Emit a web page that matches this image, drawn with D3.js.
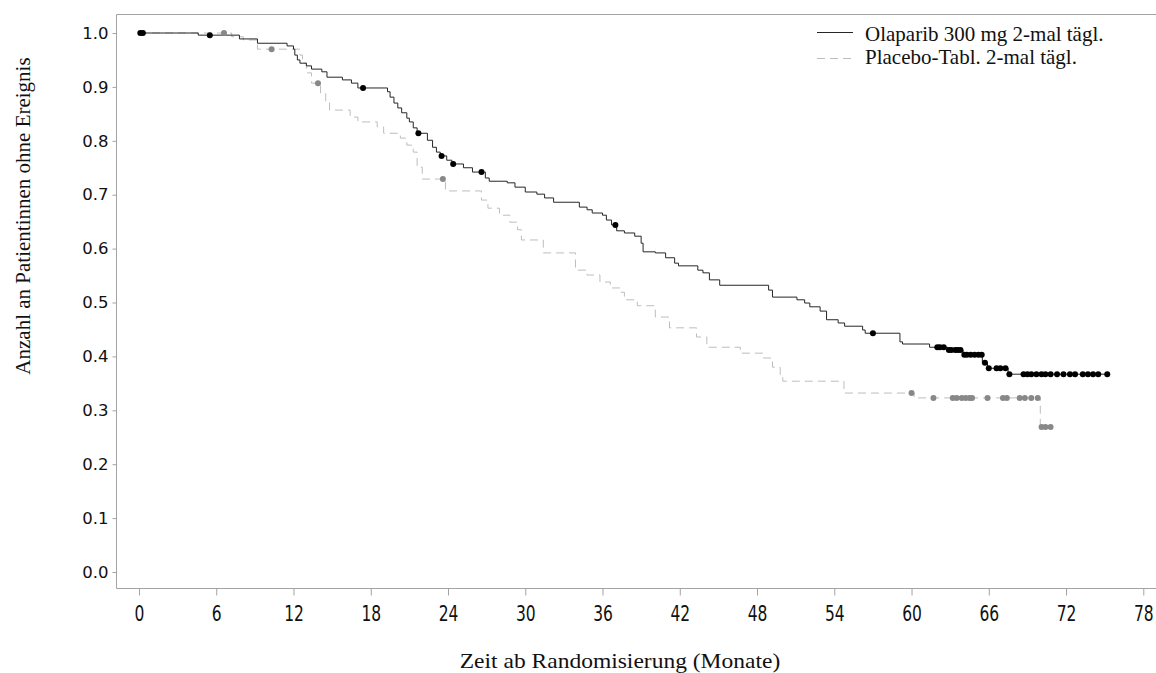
<!DOCTYPE html>
<html>
<head>
<meta charset="utf-8">
<script src="https://cdn.jsdelivr.net/npm/d3@7"></script>
<style>
    body { margin: 0; background: #fff; }
    svg { display: block; }
</style>
</head>
<body>
<svg id="kmSVG" width="1156" height="673"></svg>
<script>

// step events: [months, survival after the drop]
var olaparibSteps = [
    [4.6, 0.996], [7.8, 0.989], [9.2, 0.981], [11.5, 0.976], [12.0, 0.970],
    [12.1, 0.959], [12.3, 0.950], [12.5, 0.944], [13.0, 0.939], [13.4, 0.933],
    [14.2, 0.928], [14.6, 0.918], [15.8, 0.913], [16.5, 0.907], [17.0, 0.898],
    [19.3, 0.891], [19.5, 0.881], [19.8, 0.870], [20.1, 0.861], [20.4, 0.852],
    [20.8, 0.842], [21.0, 0.835], [21.3, 0.824], [21.6, 0.814], [22.4, 0.801],
    [22.8, 0.788], [23.1, 0.779], [23.4, 0.772], [23.9, 0.764], [24.3, 0.757],
    [25.2, 0.750], [25.9, 0.742], [26.9, 0.731], [27.2, 0.725], [28.6, 0.722],
    [29.2, 0.714], [30.0, 0.705], [30.9, 0.701], [31.5, 0.694], [32.2, 0.686],
    [34.2, 0.677], [34.8, 0.672], [35.2, 0.666], [36.0, 0.662], [36.3, 0.653],
    [36.7, 0.644], [37.1, 0.633], [37.7, 0.629], [38.5, 0.623], [39.0, 0.610],
    [39.15, 0.594], [40.1, 0.592], [40.9, 0.583], [41.6, 0.573], [41.9, 0.568],
    [43.4, 0.560], [43.8, 0.555], [44.3, 0.542], [45.1, 0.532], [48.9, 0.523],
    [49.2, 0.510], [51.1, 0.505], [51.7, 0.499], [52.1, 0.492], [52.9, 0.484],
    [53.4, 0.468], [54.3, 0.462], [54.8, 0.456], [56.2, 0.449], [56.4, 0.443],
    [59.1, 0.427], [59.3, 0.423], [61.4, 0.417], [62.8, 0.412], [64.0, 0.403],
    [65.5, 0.388], [65.9, 0.378], [67.5, 0.367]
];
var olaparibEnd = 75.2;
var olaparibCensored = [
    0.1, 0.3, 5.5, 17.4, 21.7, 23.5, 24.4, 26.6, 37.0, 57.0,
    62.0, 62.2, 62.5, 62.9, 63.1, 63.4, 63.6, 63.8,
    64.1, 64.3, 64.6, 64.9, 65.2, 65.45, 65.7,
    66.0, 66.6, 66.9, 67.3,
    67.6, 68.7, 69.0, 69.3, 69.7, 70.1, 70.4, 70.8, 71.3, 71.8,
    72.3, 72.7, 73.3, 73.7, 74.1, 74.5, 75.2
];

var placeboSteps = [
    [7.2, 0.993], [8.1, 0.987], [9.2, 0.970], [12.5, 0.959], [12.7, 0.944],
    [13.0, 0.926], [13.4, 0.907], [14.1, 0.889], [14.5, 0.872], [14.8, 0.857],
    [16.4, 0.844], [17.0, 0.835], [18.5, 0.826], [19.0, 0.814], [20.3, 0.805],
    [20.8, 0.792], [21.3, 0.779], [21.6, 0.751], [22.0, 0.729], [23.8, 0.707],
    [26.6, 0.690], [27.1, 0.675], [28.0, 0.662], [28.8, 0.649], [29.4, 0.635],
    [29.7, 0.616], [31.4, 0.592], [33.9, 0.560], [34.8, 0.551], [35.8, 0.538],
    [36.6, 0.527], [37.4, 0.519], [37.7, 0.505], [38.7, 0.494], [40.1, 0.473],
    [41.2, 0.453], [43.3, 0.436], [44.1, 0.417], [46.7, 0.406], [48.5, 0.397],
    [49.2, 0.380], [49.8, 0.365], [50.0, 0.354], [54.75, 0.332], [60.2, 0.323],
    [70.0, 0.269]
];
var placeboEnd = 70.8;
var placeboCensored = [
    6.6, 10.3, 13.9, 23.6, 60.0, 61.7, 63.2, 63.5, 63.9, 64.2, 64.5, 64.7,
    65.9, 67.1, 67.4, 68.4, 68.8, 69.3, 69.8, 70.1, 70.4, 70.8
];

var xTicks = [0, 6, 12, 18, 24, 30, 36, 42, 48, 54, 60, 66, 72, 78];
var yTicks = [0, 0.1, 0.2, 0.3, 0.4, 0.5, 0.6, 0.7, 0.8, 0.9, 1.0];
var legendLabels = ['Olaparib 300 mg 2-mal tägl.', 'Placebo-Tabl. 2-mal tägl.'];

var properties = {
    width: 1156,
    height: 673,
    frameLeft: 116,
    frameTop: 14,
    frameBottom: 588
};

function survivalAt(steps, t) {
    var s = 1;
    for (var i = 0; i < steps.length; i++) {
        if (steps[i][0] <= t) {
            s = steps[i][1];
        }
    }
    return s;
}

function buildKaplanMeier(properties) {

    var svg = d3.select('#kmSVG');

    var x = d3.scaleLinear()
        .domain([0, 78])
        .range([139, 1143.3]);

    var y = d3.scaleLinear()
        .domain([0, 1])
        .range([572, 33]);

    // frame (open on the right, runs off the picture)
    svg.append('path')
        .attr('d', 'M' + (properties.width + 2) + ',' + (properties.frameTop + 0.5) +
            'H' + (properties.frameLeft + 0.5) +
            'V' + (properties.frameBottom + 0.5) +
            'H' + (properties.width + 2))
        .attr('fill', 'none')
        .attr('stroke', '#a3a3a3')
        .attr('stroke-width', 1);

    var xAxis = svg.append('g')
        .attr('transform', 'translate(0,' + (properties.frameBottom + 0.5) + ')')
        .call(d3.axisBottom(x).tickValues(xTicks).tickSize(7).tickPadding(0));

    xAxis.select('.domain').remove();
    xAxis.selectAll('line').attr('stroke', '#a3a3a3');
    xAxis.selectAll('text')
        .attr('y', 0)
        .attr('dy', 0)
        .attr('fill', '#111')
        .attr('font-family', 'DejaVu Sans')
        .attr('font-size', 15.5)
        .attr('transform', 'translate(0,32) scale(1,1.35)');

    var yAxis = svg.append('g')
        .attr('transform', 'translate(' + (properties.frameLeft + 0.5) + ',0)')
        .call(d3.axisLeft(y).tickValues(yTicks).tickSize(4).tickPadding(4).tickFormat(d3.format('.1f')));

    yAxis.select('.domain').remove();
    yAxis.selectAll('line').attr('stroke', '#a3a3a3');
    yAxis.selectAll('text')
        .attr('fill', '#111')
        .attr('font-family', 'DejaVu Sans')
        .attr('font-size', 16.5);

    // axis titles
    svg.append('text')
        .attr('transform', 'translate(620,668) scale(1.12,1)')
        .attr('text-anchor', 'middle')
        .attr('font-family', 'Liberation Serif')
        .attr('font-size', 21)
        .attr('fill', '#111')
        .text('Zeit ab Randomisierung (Monate)');

    svg.append('text')
        .attr('transform', 'translate(30,216) rotate(-90)')
        .attr('text-anchor', 'middle')
        .attr('font-family', 'Liberation Serif')
        .attr('font-size', 21)
        .attr('fill', '#111')
        .text('Anzahl an Patientinnen ohne Ereignis');

    var line = d3.line()
        .x(function(d) { return x(d[0]); })
        .y(function(d) { return y(d[1]); })
        .curve(d3.curveStepAfter);

    var placeboPoints = [[0, 1]].concat(placeboSteps, [[placeboEnd, survivalAt(placeboSteps, placeboEnd)]]);
    var olaparibPoints = [[0, 1]].concat(olaparibSteps, [[olaparibEnd, survivalAt(olaparibSteps, olaparibEnd)]]);

    svg.append('path')
        .datum(placeboPoints)
        .attr('d', line)
        .attr('fill', 'none')
        .attr('stroke', '#bdbdbd')
        .attr('stroke-width', 1)
        .attr('stroke-dasharray', '8,5');

    svg.append('path')
        .datum(olaparibPoints)
        .attr('d', line)
        .attr('fill', 'none')
        .attr('stroke', '#262626')
        .attr('stroke-width', 1);

    svg.selectAll('.placeboCensor')
        .data(placeboCensored)
        .enter()
        .append('circle')
            .attr('class', 'placeboCensor')
            .attr('r', 3)
            .attr('fill', '#888')
            .attr('cx', function(d) { return x(d); })
            .attr('cy', function(d) { return y(survivalAt(placeboSteps, d)); });

    svg.selectAll('.olaparibCensor')
        .data(olaparibCensored)
        .enter()
        .append('circle')
            .attr('class', 'olaparibCensor')
            .attr('r', 3)
            .attr('fill', '#000')
            .attr('cx', function(d) { return x(d); })
            .attr('cy', function(d) { return y(survivalAt(olaparibSteps, d)); });

    // legend
    var legend = svg.append('g')
        .attr('transform', 'translate(817,0)');

    legend.append('line')
        .attr('x1', 0).attr('x2', 36)
        .attr('y1', 32.5).attr('y2', 32.5)
        .attr('stroke', '#262626')
        .attr('stroke-width', 1);

    legend.append('line')
        .attr('x1', 0).attr('x2', 36)
        .attr('y1', 58.5).attr('y2', 58.5)
        .attr('stroke', '#bdbdbd')
        .attr('stroke-width', 1)
        .attr('stroke-dasharray', '8,5');

    legend.selectAll('.legendText')
        .data(legendLabels)
        .enter()
        .append('text')
            .attr('class', 'legendText')
            .attr('x', 48)
            .attr('y', function(d, i) { return 41 + i * 23; })
            .attr('font-family', 'Liberation Serif')
            .attr('font-size', 21)
            .attr('fill', '#111')
            .text(function(d) { return d; });
}

buildKaplanMeier(properties);

</script>
</body>
</html>
